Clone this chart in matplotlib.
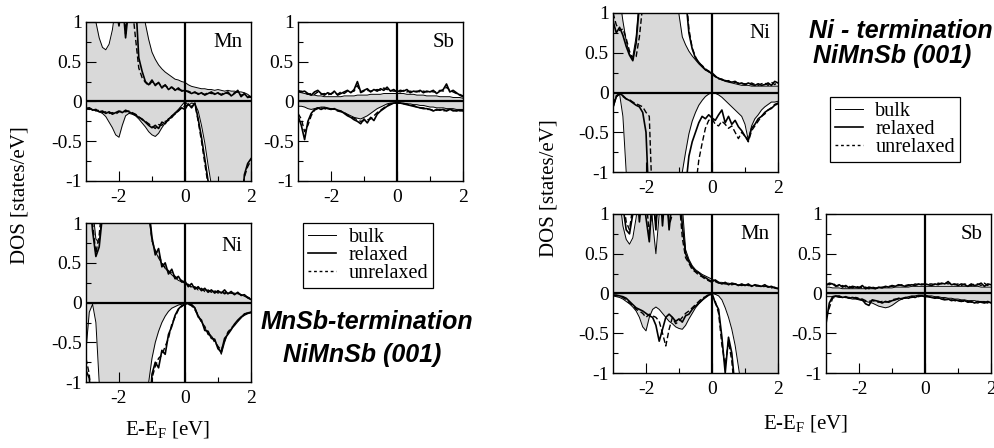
import numpy as np
import matplotlib
matplotlib.use("Agg")
import matplotlib.pyplot as plt
from matplotlib.lines import Line2D
from matplotlib.ticker import FixedLocator

plt.rcParams["font.family"] = ["Liberation Serif", "DejaVu Serif"]
plt.rcParams["mathtext.fontset"] = "custom"
plt.rcParams["mathtext.rm"] = "Liberation Serif"
plt.rcParams["axes.unicode_minus"] = False

# energy grid, E - E_F in eV (0.1 eV steps from -3 to 2)
E = np.linspace(-3.0, 2.0, 51)

# ---------- MnSb-terminated NiMnSb(001) ----------
mnsb_mn_bulk_up = [1.5, 1.5, 1.3, 1.0, 0.8, 0.68, 0.65, 0.72, 0.9, 1.2,
                   1.5, 1.5, 1.5, 1.5, 1.5, 1.5, 1.5, 1.5, 0.98, 0.78,
                   0.62, 0.53, 0.46, 0.41, 0.37, 0.34, 0.31, 0.28, 0.27, 0.25,
                   0.24, 0.21, 0.19, 0.18, 0.17, 0.16, 0.16, 0.15, 0.15, 0.14,
                   0.15, 0.14, 0.13, 0.14, 0.13, 0.13, 0.12, 0.12, 0.11, 0.09, 0.06]
mnsb_mn_rel_up = [1.5, 1.5, 1.5, 1.5, 1.5, 1.5, 1.5, 1.5, 1.5, 1.2,
                  0.95, 1.3, 0.8, 1.2, 1.5, 1.3, 0.55, 0.38, 0.25, 0.21,
                  0.27, 0.2, 0.24, 0.17, 0.21, 0.15, 0.18, 0.14, 0.17, 0.13,
                  0.14, 0.12, 0.1, 0.12, 0.09, 0.11, 0.08, 0.1, 0.12, 0.09,
                  0.11, 0.08, 0.1, 0.12, 0.07, 0.1, 0.14, 0.06, 0.1, 0.05, 0.06]
mnsb_mn_unrel_up = [1.5, 1.5, 1.5, 1.5, 1.5, 1.5, 1.5, 1.5, 1.5, 1.3,
                    1.1, 1.4, 0.85, 1.3, 1.2, 0.8, 0.42, 0.3, 0.24, 0.2,
                    0.25, 0.22, 0.23, 0.19, 0.2, 0.17, 0.18, 0.15, 0.15, 0.14,
                    0.13, 0.13, 0.11, 0.11, 0.1, 0.1, 0.09, 0.11, 0.1, 0.1,
                    0.1, 0.09, 0.11, 0.1, 0.08, 0.11, 0.12, 0.08, 0.09, 0.07, 0.05]
mnsb_mn_bulk_dn = [-0.08, -0.08, -0.1, -0.11, -0.13, -0.15, -0.19, -0.26, -0.33, -0.42,
                   -0.45, -0.3, -0.18, -0.15, -0.16, -0.18, -0.22, -0.27, -0.32, -0.38,
                   -0.42, -0.44, -0.4, -0.33, -0.27, -0.22, -0.18, -0.14, -0.1, -0.05,
                   0.0, -0.05, -0.02, -0.03, -0.12, -0.3, -0.52, -0.8, -1.05, -1.5,
                   -1.5, -1.5, -1.5, -1.5, -1.5, -1.5, -1.5, -1.5, -1.5, -1.5, -1.5]
mnsb_mn_rel_dn = [-0.1, -0.08, -0.11, -0.1, -0.13, -0.12, -0.15, -0.13, -0.16, -0.14,
                  -0.12, -0.14, -0.11, -0.13, -0.15, -0.17, -0.2, -0.22, -0.26, -0.3,
                  -0.33, -0.3, -0.34, -0.26, -0.28, -0.22, -0.2, -0.15, -0.12, -0.08,
                  -0.1, -0.03, -0.08, -0.02, -0.22, -0.45, -0.72, -1.0, -1.3, -1.5,
                  -1.5, -1.5, -1.5, -1.5, -1.5, -1.5, -1.5, -1.5, -0.92, -0.78, -0.72]
mnsb_mn_unrel_dn = [-0.09, -0.1, -0.09, -0.12, -0.11, -0.14, -0.13, -0.15, -0.14, -0.16,
                    -0.13, -0.12, -0.13, -0.12, -0.14, -0.16, -0.19, -0.23, -0.25, -0.28,
                    -0.31, -0.34, -0.29, -0.3, -0.25, -0.24, -0.18, -0.16, -0.11, -0.07,
                    -0.06, -0.04, -0.06, -0.03, -0.25, -0.5, -0.78, -1.05, -1.4, -1.5,
                    -1.5, -1.5, -1.5, -1.5, -1.5, -1.5, -1.5, -1.2, -0.95, -0.82, -0.74]

mnsb_sb_bulk_up = [0.12, 0.11, 0.1, 0.09, 0.08, 0.08, 0.07, 0.07, 0.06, 0.06,
                   0.06, 0.06, 0.06, 0.06, 0.07, 0.07, 0.07, 0.07, 0.08, 0.08,
                   0.08, 0.08, 0.09, 0.09, 0.09, 0.09, 0.1, 0.1, 0.1, 0.1,
                   0.1, 0.1, 0.1, 0.09, 0.09, 0.09, 0.08, 0.08, 0.08, 0.07,
                   0.07, 0.07, 0.07, 0.06, 0.06, 0.06, 0.06, 0.05, 0.05, 0.05, 0.04]
mnsb_sb_rel_up = [0.14, 0.12, 0.13, 0.1, 0.08, 0.12, 0.14, 0.1, 0.08, 0.11,
                  0.09, 0.13, 0.08, 0.1, 0.12, 0.14, 0.11, 0.15, 0.25, 0.12,
                  0.14, 0.16, 0.12, 0.15, 0.13, 0.16, 0.14, 0.18, 0.13, 0.15,
                  0.12, 0.14, 0.13, 0.15, 0.11, 0.13, 0.12, 0.14, 0.11, 0.13,
                  0.12, 0.14, 0.1, 0.13, 0.15, 0.22, 0.12, 0.14, 0.11, 0.08, 0.06]
mnsb_sb_unrel_up = [0.12, 0.13, 0.11, 0.09, 0.1, 0.09, 0.12, 0.09, 0.1, 0.08,
                    0.1, 0.11, 0.09, 0.12, 0.1, 0.13, 0.12, 0.13, 0.2, 0.11,
                    0.13, 0.14, 0.13, 0.14, 0.15, 0.14, 0.17, 0.15, 0.14, 0.13,
                    0.13, 0.12, 0.14, 0.12, 0.13, 0.12, 0.13, 0.12, 0.13, 0.12,
                    0.13, 0.12, 0.12, 0.14, 0.13, 0.18, 0.14, 0.12, 0.1, 0.09, 0.07]
mnsb_sb_bulk_dn = [-0.06, -0.06, -0.07, -0.09, -0.1, -0.09, -0.08, -0.07, -0.07, -0.08,
                   -0.09, -0.1, -0.11, -0.12, -0.14, -0.16, -0.18, -0.2, -0.21, -0.22,
                   -0.2, -0.18, -0.15, -0.12, -0.09, -0.07, -0.05, -0.03, -0.02, -0.02,
                   -0.01, -0.02, -0.02, -0.03, -0.03, -0.04, -0.04, -0.05, -0.05, -0.06,
                   -0.07, -0.07, -0.08, -0.08, -0.08, -0.09, -0.09, -0.09, -0.1, -0.1, -0.1]
mnsb_sb_rel_dn = [-0.18, -0.3, -0.48, -0.25, -0.15, -0.1, -0.08, -0.1, -0.08, -0.09,
                  -0.1, -0.09, -0.11, -0.12, -0.15, -0.18, -0.2, -0.23, -0.25, -0.28,
                  -0.22, -0.27, -0.2, -0.24, -0.16, -0.12, -0.09, -0.06, -0.04, -0.02,
                  -0.02, -0.02, -0.03, -0.04, -0.05, -0.06, -0.07, -0.08, -0.09, -0.09,
                  -0.1, -0.12, -0.1, -0.11, -0.1, -0.12, -0.1, -0.11, -0.12, -0.11, -0.12]
mnsb_sb_unrel_dn = [-0.15, -0.22, -0.38, -0.3, -0.18, -0.11, -0.09, -0.08, -0.09, -0.1,
                    -0.09, -0.1, -0.12, -0.13, -0.14, -0.17, -0.19, -0.21, -0.23, -0.25,
                    -0.24, -0.23, -0.22, -0.18, -0.14, -0.11, -0.08, -0.05, -0.03, -0.02,
                    -0.02, -0.02, -0.03, -0.03, -0.05, -0.05, -0.07, -0.08, -0.08, -0.1,
                    -0.1, -0.11, -0.11, -0.1, -0.12, -0.11, -0.1, -0.12, -0.11, -0.12, -0.11]

mnsb_ni_bulk_up = [1.5, 1.5, 1.2, 0.8, 0.75, 1.2, 1.5, 1.5, 1.5, 1.5,
                   1.5, 1.5, 1.5, 1.5, 1.5, 1.5, 1.5, 1.5, 1.5, 1.1,
                   0.78, 0.65, 0.56, 0.49, 0.43, 0.39, 0.35, 0.31, 0.28, 0.26,
                   0.25, 0.22, 0.2, 0.19, 0.18, 0.17, 0.16, 0.15, 0.15, 0.14,
                   0.14, 0.13, 0.13, 0.12, 0.12, 0.12, 0.11, 0.1, 0.08, 0.06, 0.04]
mnsb_ni_rel_up = [1.5, 1.4, 0.9, 0.58, 0.7, 1.1, 1.5, 1.5, 1.5, 1.5,
                  1.5, 1.5, 1.5, 1.5, 1.5, 1.5, 1.5, 1.5, 1.5, 1.2,
                  0.82, 0.6, 0.68, 0.45, 0.5, 0.36, 0.42, 0.3, 0.33, 0.26,
                  0.27, 0.2, 0.24, 0.17, 0.2, 0.15, 0.18, 0.13, 0.16, 0.12,
                  0.15, 0.12, 0.16, 0.11, 0.14, 0.1, 0.13, 0.09, 0.1, 0.06, 0.04]
mnsb_ni_unrel_up = [1.5, 1.5, 1.0, 0.62, 0.85, 1.3, 1.5, 1.5, 1.5, 1.5,
                    1.5, 1.5, 1.5, 1.5, 1.5, 1.5, 1.5, 1.5, 1.5, 1.15,
                    0.78, 0.65, 0.6, 0.5, 0.44, 0.4, 0.37, 0.33, 0.29, 0.28,
                    0.24, 0.23, 0.19, 0.2, 0.16, 0.18, 0.14, 0.16, 0.13, 0.15,
                    0.12, 0.14, 0.11, 0.13, 0.12, 0.11, 0.12, 0.1, 0.09, 0.07, 0.05]
mnsb_ni_bulk_dn = [-0.6, -0.12, -0.02, -0.25, -1.0, -1.5, -1.5, -1.5, -1.5, -1.5,
                   -1.5, -1.5, -1.5, -1.5, -1.5, -1.5, -1.5, -1.5, -1.5, -1.0,
                   -0.7, -0.5, -0.36, -0.25, -0.17, -0.11, -0.07, -0.05, -0.03, -0.02,
                   -0.01, 0.0, -0.02, -0.06, -0.16, -0.24, -0.32, -0.38, -0.42, -0.48,
                   -0.55, -0.65, -0.5, -0.38, -0.33, -0.29, -0.24, -0.19, -0.16, -0.14, -0.13]
mnsb_ni_rel_dn = [-0.85, -0.95, -1.5, -1.5, -1.5, -1.5, -1.5, -1.5, -1.5, -1.5,
                  -1.5, -1.5, -1.5, -1.5, -1.5, -1.5, -1.5, -1.5, -1.5, -1.5,
                  -0.9, -0.75, -0.82, -0.6, -0.65, -0.4, -0.3, -0.16, -0.08, -0.04,
                  -0.02, -0.01, -0.03, -0.07, -0.18, -0.22, -0.35, -0.36, -0.45, -0.46,
                  -0.58, -0.62, -0.45, -0.4, -0.34, -0.27, -0.22, -0.18, -0.15, -0.13, -0.12]
mnsb_ni_unrel_dn = [-0.7, -0.9, -1.5, -1.5, -1.5, -1.5, -1.5, -1.5, -1.5, -1.5,
                    -1.5, -1.5, -1.5, -1.5, -1.5, -1.5, -1.5, -1.5, -1.5, -1.5,
                    -0.95, -0.8, -0.7, -0.66, -0.55, -0.45, -0.27, -0.18, -0.09, -0.05,
                    -0.02, -0.02, -0.04, -0.09, -0.16, -0.25, -0.3, -0.4, -0.42, -0.5,
                    -0.55, -0.6, -0.48, -0.37, -0.32, -0.28, -0.23, -0.19, -0.14, -0.13, -0.12]

# ---------- Ni-terminated NiMnSb(001) ----------
ni_ni_bulk_up = [1.5, 1.5, 1.2, 0.9, 0.65, 0.48, 0.45, 0.7, 1.2, 1.5,
                 1.5, 1.5, 1.5, 1.5, 1.5, 1.5, 1.5, 1.5, 1.5, 1.5,
                 0.98, 0.7, 0.6, 0.52, 0.46, 0.41, 0.36, 0.32, 0.28, 0.26,
                 0.24, 0.2, 0.18, 0.16, 0.14, 0.13, 0.12, 0.11, 0.1, 0.09,
                 0.09, 0.09, 0.08, 0.08, 0.08, 0.08, 0.08, 0.08, 0.08, 0.08, 0.08]
ni_ni_rel_up = [0.9, 0.75, 0.82, 0.72, 0.58, 0.47, 0.4, 0.62, 1.1, 1.5,
                1.5, 1.5, 1.5, 1.5, 1.5, 1.5, 1.5, 1.5, 1.5, 1.5,
                1.5, 1.5, 1.2, 0.75, 0.55, 0.43, 0.38, 0.33, 0.29, 0.27,
                0.23, 0.2, 0.18, 0.16, 0.15, 0.14, 0.13, 0.14, 0.11, 0.12,
                0.1, 0.12, 0.1, 0.09, 0.11, 0.09, 0.1, 0.12, 0.09, 0.14, 0.12]
ni_ni_unrel_up = [1.0, 0.85, 0.78, 0.8, 0.68, 0.52, 0.42, 0.45, 0.7, 1.1,
                  1.5, 1.5, 1.5, 1.5, 1.5, 1.5, 1.5, 1.5, 1.5, 1.5,
                  1.5, 1.5, 1.3, 0.8, 0.56, 0.45, 0.37, 0.34, 0.3, 0.26,
                  0.25, 0.21, 0.17, 0.17, 0.14, 0.15, 0.12, 0.13, 0.12, 0.11,
                  0.11, 0.1, 0.12, 0.1, 0.09, 0.11, 0.12, 0.09, 0.13, 0.1, 0.13]
ni_ni_bulk_dn = [-0.2, -0.06, -0.02, -0.3, -1.0, -1.5, -1.5, -1.5, -1.5, -1.5,
                 -1.5, -1.5, -1.5, -1.5, -1.5, -1.5, -1.5, -1.5, -1.5, -1.5,
                 -1.3, -1.0, -0.75, -0.52, -0.36, -0.25, -0.16, -0.1, -0.05, -0.02,
                 0.0, -0.01, -0.03, -0.06, -0.1, -0.14, -0.18, -0.22, -0.26, -0.3,
                 -0.4, -0.6, -0.42, -0.33, -0.28, -0.22, -0.18, -0.15, -0.12, -0.12, -0.11]
ni_ni_rel_dn = [-0.18, -0.05, -0.01, -0.04, -0.08, -0.1, -0.13, -0.16, -0.18, -0.25,
                -0.5, -1.5, -1.5, -1.5, -1.5, -1.5, -1.5, -1.5, -1.5, -1.5,
                -1.5, -1.5, -1.2, -0.8, -0.62, -0.5, -0.38, -0.3, -0.33, -0.28,
                -0.32, -0.35, -0.28, -0.22, -0.38, -0.3, -0.4, -0.35, -0.43, -0.48,
                -0.55, -0.6, -0.45, -0.4, -0.33, -0.3, -0.25, -0.22, -0.2, -0.16, -0.14]
ni_ni_unrel_dn = [-0.15, -0.04, -0.02, -0.05, -0.08, -0.09, -0.12, -0.14, -0.16, -0.18,
                  -0.25, -0.3, -1.5, -1.5, -1.5, -1.5, -1.5, -1.5, -1.5, -1.5,
                  -1.5, -1.5, -1.5, -1.5, -1.5, -1.2, -0.85, -0.64, -0.45, -0.35,
                  -0.33, -0.4, -0.42, -0.36, -0.4, -0.45, -0.42, -0.5, -0.58, -0.5,
                  -0.55, -0.62, -0.48, -0.42, -0.36, -0.3, -0.27, -0.22, -0.19, -0.15, -0.13]

ni_mn_bulk_up = [1.5, 1.5, 1.2, 0.85, 0.68, 0.62, 0.7, 0.95, 1.3, 1.5,
                 1.5, 1.5, 0.9, 0.5, 1.0, 1.5, 1.5, 1.5, 1.5, 1.5,
                 1.5, 1.1, 0.55, 0.43, 0.35, 0.3, 0.27, 0.24, 0.22, 0.2,
                 0.18, 0.16, 0.14, 0.14, 0.13, 0.13, 0.12, 0.12, 0.11, 0.11,
                 0.11, 0.1, 0.1, 0.1, 0.09, 0.09, 0.09, 0.08, 0.08, 0.07, 0.07]
ni_mn_rel_up = [1.5, 1.5, 1.5, 1.1, 0.8, 0.75, 1.0, 1.5, 0.9, 1.3,
                0.95, 0.65, 1.3, 0.8, 1.5, 0.85, 1.4, 0.8, 1.2, 1.5,
                1.5, 0.85, 0.5, 0.4, 0.33, 0.28, 0.26, 0.22, 0.2, 0.17,
                0.15, 0.17, 0.14, 0.12, 0.14, 0.11, 0.13, 0.12, 0.1, 0.12,
                0.1, 0.12, 0.09, 0.11, 0.1, 0.09, 0.11, 0.08, 0.09, 0.07, 0.06]
ni_mn_unrel_up = [1.5, 1.5, 1.5, 1.2, 0.9, 0.8, 1.1, 1.5, 1.0, 1.1,
                  1.2, 0.75, 1.1, 0.9, 1.3, 1.0, 1.5, 0.85, 1.0, 1.3,
                  1.2, 0.7, 0.45, 0.38, 0.3, 0.27, 0.23, 0.21, 0.18, 0.16,
                  0.14, 0.15, 0.13, 0.13, 0.12, 0.12, 0.11, 0.12, 0.11, 0.1,
                  0.11, 0.1, 0.1, 0.09, 0.1, 0.08, 0.09, 0.09, 0.07, 0.08, 0.05]
ni_mn_bulk_dn = [-0.03, -0.04, -0.05, -0.07, -0.1, -0.13, -0.17, -0.22, -0.3, -0.42,
                 -0.47, -0.3, -0.2, -0.17, -0.2, -0.25, -0.3, -0.35, -0.38, -0.42,
                 -0.44, -0.45, -0.4, -0.32, -0.25, -0.18, -0.13, -0.09, -0.05, -0.02,
                 0.0, -0.01, -0.03, -0.08, -0.18, -0.3, -0.45, -0.65, -0.92, -1.2,
                 -1.5, -1.5, -1.5, -1.5, -1.5, -1.5, -1.5, -1.5, -1.5, -1.5, -1.5]
ni_mn_rel_dn = [-0.02, -0.02, -0.03, -0.04, -0.06, -0.1, -0.14, -0.18, -0.2, -0.22,
                -0.25, -0.28, -0.3, -0.4, -0.6, -0.45, -0.3, -0.26, -0.3, -0.35,
                -0.32, -0.36, -0.28, -0.26, -0.2, -0.16, -0.12, -0.08, -0.05, -0.02,
                0.0, -0.12, -0.2, -0.55, -1.0, -0.55, -0.75, -1.2, -1.5, -1.5,
                -1.5, -1.5, -1.5, -1.5, -1.5, -1.5, -1.5, -1.5, -1.5, -1.5, -1.5]
ni_mn_unrel_dn = [-0.02, -0.03, -0.03, -0.05, -0.08, -0.12, -0.15, -0.2, -0.22, -0.25,
                  -0.3, -0.26, -0.28, -0.3, -0.35, -0.5, -0.66, -0.45, -0.3, -0.38,
                  -0.35, -0.3, -0.25, -0.22, -0.18, -0.14, -0.1, -0.06, -0.04, -0.01,
                  -0.02, -0.1, -0.25, -0.65, -0.9, -0.6, -0.85, -1.3, -1.5, -1.5,
                  -1.5, -1.5, -1.5, -1.5, -1.5, -1.5, -1.5, -1.5, -1.5, -1.5, -1.5]

ni_sb_bulk_up = [0.08, 0.08, 0.07, 0.07, 0.07, 0.06, 0.06, 0.06, 0.06, 0.06,
                 0.06, 0.06, 0.06, 0.06, 0.06, 0.06, 0.07, 0.07, 0.07, 0.07,
                 0.07, 0.08, 0.08, 0.08, 0.08, 0.08, 0.09, 0.09, 0.09, 0.09,
                 0.09, 0.09, 0.09, 0.09, 0.09, 0.09, 0.09, 0.09, 0.09, 0.09,
                 0.09, 0.09, 0.09, 0.09, 0.09, 0.09, 0.09, 0.08, 0.08, 0.08, 0.08]
ni_sb_rel_up = [0.1, 0.13, 0.12, 0.09, 0.11, 0.08, 0.1, 0.07, 0.09, 0.08,
                0.07, 0.1, 0.06, 0.08, 0.07, 0.06, 0.08, 0.07, 0.09, 0.08,
                0.1, 0.09, 0.11, 0.1, 0.09, 0.1, 0.11, 0.1, 0.12, 0.11,
                0.12, 0.11, 0.1, 0.12, 0.11, 0.13, 0.12, 0.15, 0.11, 0.12,
                0.1, 0.12, 0.11, 0.09, 0.12, 0.1, 0.11, 0.13, 0.09, 0.12, 0.11]
ni_sb_unrel_up = [0.12, 0.11, 0.13, 0.1, 0.09, 0.1, 0.08, 0.09, 0.07, 0.09,
                  0.08, 0.07, 0.08, 0.06, 0.08, 0.07, 0.07, 0.08, 0.08, 0.09,
                  0.09, 0.1, 0.1, 0.11, 0.1, 0.11, 0.1, 0.12, 0.11, 0.12,
                  0.11, 0.12, 0.12, 0.11, 0.13, 0.12, 0.13, 0.12, 0.13, 0.11,
                  0.12, 0.1, 0.12, 0.11, 0.1, 0.12, 0.12, 0.1, 0.13, 0.1, 0.12]
ni_sb_bulk_dn = [-0.04, -0.04, -0.04, -0.04, -0.05, -0.05, -0.05, -0.06, -0.07, -0.07,
                 -0.08, -0.09, -0.1, -0.11, -0.12, -0.14, -0.16, -0.17, -0.18, -0.17,
                 -0.15, -0.12, -0.09, -0.07, -0.05, -0.04, -0.03, -0.03, -0.02, -0.02,
                 -0.02, -0.03, -0.03, -0.04, -0.04, -0.05, -0.05, -0.06, -0.06, -0.07,
                 -0.07, -0.08, -0.08, -0.09, -0.09, -0.09, -0.1, -0.1, -0.1, -0.11, -0.11]
ni_sb_rel_dn = [-0.38, -0.12, -0.04, -0.03, -0.04, -0.05, -0.04, -0.06, -0.05, -0.06,
                -0.07, -0.08, -0.13, -0.15, -0.08, -0.09, -0.1, -0.12, -0.1, -0.11,
                -0.09, -0.08, -0.06, -0.07, -0.05, -0.06, -0.04, -0.05, -0.03, -0.03,
                -0.04, -0.04, -0.05, -0.06, -0.05, -0.07, -0.08, -0.07, -0.09, -0.08,
                -0.09, -0.1, -0.09, -0.11, -0.1, -0.12, -0.1, -0.11, -0.12, -0.1, -0.12]
ni_sb_unrel_dn = [-0.3, -0.18, -0.06, -0.04, -0.03, -0.05, -0.05, -0.05, -0.06, -0.05,
                  -0.06, -0.07, -0.09, -0.1, -0.09, -0.1, -0.11, -0.1, -0.11, -0.1,
                  -0.08, -0.07, -0.07, -0.06, -0.06, -0.05, -0.05, -0.04, -0.04, -0.03,
                  -0.03, -0.04, -0.05, -0.05, -0.06, -0.06, -0.07, -0.08, -0.08, -0.09,
                  -0.1, -0.09, -0.1, -0.1, -0.11, -0.11, -0.12, -0.1, -0.11, -0.12, -0.11]

X_TICKS = [-2, 0, 2]
X_TICK_LABELS = ["-2", "0", "2"]
Y_TICKS = [-1, -0.5, 0, 0.5, 1]
Y_TICK_LABELS = ["-1", "-0.5", "0", "0.5", "1"]
LEGEND_LABELS = ["bulk", "relaxed", "unrelaxed"]
GRAY = "#d9d9d9"


def draw_panel(ax, name, bulk_up, bulk_dn, rel_up, rel_dn, unrel_up, unrel_dn, label_y=0.87):
    ax.fill_between(E, 0, bulk_up, color=GRAY, lw=0)
    ax.fill_between(E, 0, bulk_dn, color=GRAY, lw=0)
    for s in (bulk_up, bulk_dn):
        ax.plot(E, s, color="k", lw=0.7)
    for s in (rel_up, rel_dn):
        ax.plot(E, s, color="k", lw=1.2)
    for s in (unrel_up, unrel_dn):
        ax.plot(E, s, color="k", lw=1.0, ls=(0, (4, 2)))
    ax.axhline(0, color="k", lw=1.6)
    ax.axvline(0, color="k", lw=1.6)
    ax.set_xlim(-3, 2)
    ax.set_ylim(-1, 1)
    ax.set_xticks(X_TICKS)
    ax.set_xticklabels(X_TICK_LABELS)
    ax.set_yticks(Y_TICKS)
    ax.set_yticklabels(Y_TICK_LABELS)
    ax.xaxis.set_minor_locator(FixedLocator([-1, 1]))
    ax.yaxis.set_minor_locator(FixedLocator([-0.75, -0.25, 0.25, 0.75]))
    ax.tick_params(which="both", direction="in", top=False, right=False, labelsize=14)
    ax.tick_params(which="major", length=7, width=0.8)
    ax.tick_params(which="minor", length=3.5, width=0.8)
    ax.tick_params(axis="x", pad=6)
    ax.tick_params(axis="y", pad=3)
    for sp in ax.spines.values():
        sp.set_linewidth(1.0)
    ax.text(0.95, label_y, name, transform=ax.transAxes, ha="right", va="center", fontsize=15)


fig = plt.figure(figsize=(9.94, 4.48), dpi=100)

W, H = 0.166, 0.355
ax_a = fig.add_axes([0.0865, 0.596, W, H])
ax_b = fig.add_axes([0.2998, 0.596, W, H])
ax_c = fig.add_axes([0.0865, 0.147, W, H])
ax_d = fig.add_axes([0.6167, 0.616, W, H])
ax_e = fig.add_axes([0.6167, 0.1674, W, H])
ax_f = fig.add_axes([0.831, 0.1674, W, H])

draw_panel(ax_a, "Mn", mnsb_mn_bulk_up, mnsb_mn_bulk_dn, mnsb_mn_rel_up, mnsb_mn_rel_dn,
           mnsb_mn_unrel_up, mnsb_mn_unrel_dn)
draw_panel(ax_b, "Sb", mnsb_sb_bulk_up, mnsb_sb_bulk_dn, mnsb_sb_rel_up, mnsb_sb_rel_dn,
           mnsb_sb_unrel_up, mnsb_sb_unrel_dn)
draw_panel(ax_c, "Ni", mnsb_ni_bulk_up, mnsb_ni_bulk_dn, mnsb_ni_rel_up, mnsb_ni_rel_dn,
           mnsb_ni_unrel_up, mnsb_ni_unrel_dn, label_y=0.85)
draw_panel(ax_d, "Ni", ni_ni_bulk_up, ni_ni_bulk_dn, ni_ni_rel_up, ni_ni_rel_dn,
           ni_ni_unrel_up, ni_ni_unrel_dn)
draw_panel(ax_e, "Mn", ni_mn_bulk_up, ni_mn_bulk_dn, ni_mn_rel_up, ni_mn_rel_dn,
           ni_mn_unrel_up, ni_mn_unrel_dn)
draw_panel(ax_f, "Sb", ni_sb_bulk_up, ni_sb_bulk_dn, ni_sb_rel_up, ni_sb_rel_dn,
           ni_sb_unrel_up, ni_sb_unrel_dn)

# axis labels
fig.text(0.020, 0.565, "DOS [states/eV]", rotation=90, ha="center", va="center", fontsize=15)
fig.text(0.552, 0.58, "DOS [states/eV]", rotation=90, ha="center", va="center", fontsize=15)
fig.text(0.169, 0.04, r"E-E$_\mathrm{F}$ [eV]", ha="center", va="center", fontsize=15)
fig.text(0.811, 0.053, r"E-E$_\mathrm{F}$ [eV]", ha="center", va="center", fontsize=15)

# legends, same style in both groups
handles = [Line2D([], [], color="k", lw=0.7),
           Line2D([], [], color="k", lw=1.2),
           Line2D([], [], color="k", lw=1.0, ls=(0, (2, 2)))]
for anchor in [(0.305, 0.502), (0.835, 0.784)]:
    leg = fig.legend(handles, LEGEND_LABELS, loc="upper left", bbox_to_anchor=anchor,
                     fontsize=14.5, frameon=True, fancybox=False, framealpha=1,
                     edgecolor="k", handlelength=1.4, handletextpad=0.6,
                     borderpad=0.25, labelspacing=-0.05, borderaxespad=0)
    leg.get_frame().set_linewidth(0.9)

# termination titles
title_font = dict(family="Liberation Sans", weight="bold", style="italic", fontsize=18,
                  ha="center", va="center")
fig.text(367 / 994, 1 - 322 / 448, "MnSb-termination", **title_font)
fig.text(362 / 994, 1 - 355 / 448, "NiMnSb (001)", **title_font)
fig.text(901 / 994, 1 - 31 / 448, "Ni - termination", **title_font)
fig.text(892 / 994, 1 - 56 / 448, "NiMnSb (001)", **title_font)

fig.savefig("out.png", dpi=100)
